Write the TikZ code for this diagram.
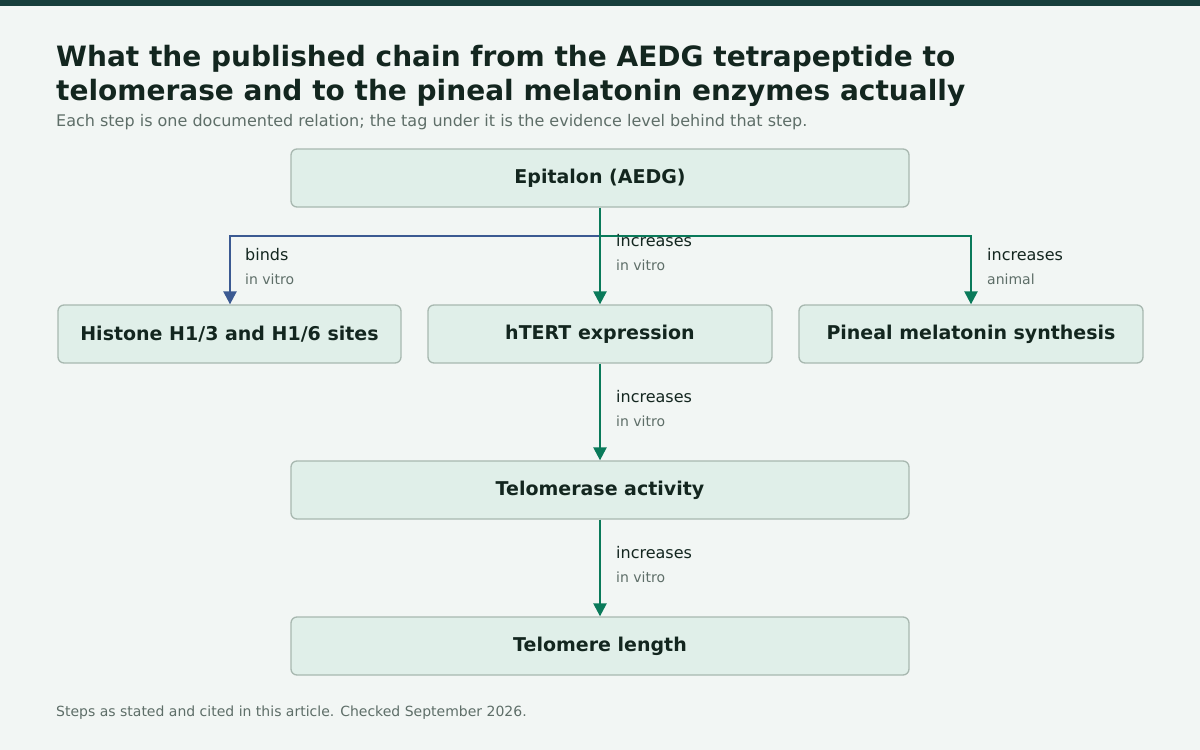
\documentclass[tikz,border=0pt]{standalone}
\usepackage{fontspec}
\setmainfont{DejaVu Sans}
\usetikzlibrary{arrows.meta}
\definecolor{bg}{HTML}{F2F6F4}
\definecolor{bar}{HTML}{173F3C}
\definecolor{boxf}{HTML}{E0EFE9}
\definecolor{boxd}{HTML}{A8B8B0}
\definecolor{ink}{HTML}{13261F}
\definecolor{sub}{HTML}{5E6E68}
\definecolor{blu}{HTML}{3B5A92}
\definecolor{grn}{HTML}{0A7A5A}
\begin{document}
\begin{tikzpicture}[x=1pt,y=-1pt,
 box/.style={draw=boxd,line width=1.3pt,fill=boxf,rounded corners=6pt,font=\fontsize{19}{22}\selectfont\bfseries,text=ink,inner sep=0pt,minimum height=58pt},
 lab/.style={anchor=base west,font=\fontsize{16}{18}\selectfont,text=ink,inner sep=0pt},
 tag/.style={anchor=base west,font=\fontsize{14}{16}\selectfont,text=sub,inner sep=0pt},
 arr/.style={line width=2.4pt,-{Triangle[length=13pt,width=13pt]}}]
\useasboundingbox (0,0) rectangle (1200,750);
\fill[bg] (0,0) rectangle (1200,750);
\fill[bar] (0,0) rectangle (1200,6);
\node[anchor=base west,inner sep=0pt,font=\fontsize{28}{34}\selectfont\bfseries,text=ink,align=left] (t1) at (56,66) {What the published chain from the AEDG tetrapeptide to};
\node[anchor=base west,inner sep=0pt,font=\fontsize{28}{34}\selectfont\bfseries,text=ink] (t2) at (56,100) {telomerase and to the pineal melatonin enzymes actually};
\node[anchor=base west,inner sep=0pt,font=\fontsize{16}{18}\selectfont,text=sub] (st) at (56,126) {Each step is one documented relation; the tag under it is the evidence level behind that step.};
\node[box,minimum width=618pt] (e) at (600,178) {Epitalon (AEDG)};
\node[box,minimum width=343pt] (h) at (229.5,334) {Histone H1/3 and H1/6 sites};
\node[box,minimum width=344pt] (t) at (600,334) {hTERT expression};
\node[box,minimum width=344pt] (p) at (971,334) {Pineal melatonin synthesis};
\node[box,minimum width=618pt] (ta) at (600,490) {Telomerase activity};
\node[box,minimum width=618pt] (tl) at (600,646) {Telomere length};
\coordinate (j) at (600,236);
\draw[arr,blu] (j) -- (230,236) -- (h.north -| 230,0);
\draw[arr,grn] (j) -- (971,236) -- (p.north);
\draw[arr,grn] (e.south) -- (t.north);
\draw[arr,grn] (t.south) -- (ta.north);
\draw[arr,grn] (ta.south) -- (tl.north);
\node[lab] (l1) at (245,260) {binds};
\node[tag] (g1) at (245,284) {in vitro};
\node[lab] (l2) at (616,246) {increases};
\node[tag] (g2) at (616,270) {in vitro};
\node[lab] (l3) at (987,260) {increases};
\node[tag] (g3) at (987,284) {animal};
\node[lab] (l4) at (616,402) {increases};
\node[tag] (g4) at (616,426) {in vitro};
\node[lab] (l5) at (616,558) {increases};
\node[tag] (g5) at (616,582) {in vitro};
\node[anchor=base west,inner sep=0pt,font=\fontsize{14}{16}\selectfont,text=sub] (f) at (56,716) {Steps as stated and cited in this article. Checked September 2026.};
\end{tikzpicture}
\end{document}
